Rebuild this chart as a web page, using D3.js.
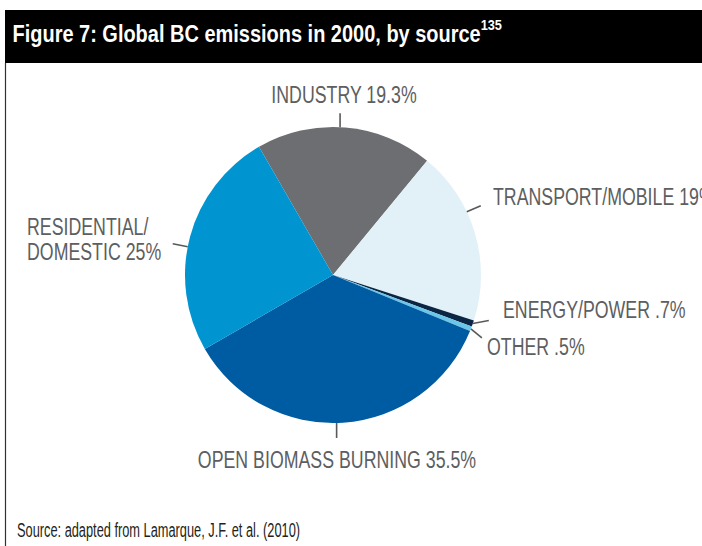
<!DOCTYPE html>
<html>
<head>
<meta charset="utf-8">
<script src="https://cdn.jsdelivr.net/npm/d3@7"></script>
<style>
  body { margin: 0; background: #fff; }
  svg { display: block; }
  text { font-family: "Liberation Sans", Arial, sans-serif; }
</style>
</head>
<body>
<svg id="chart" width="702" height="546"></svg>
<script>
// data, clockwise from the residential/industry edge
const sources = ['INDUSTRY', 'TRANSPORT/MOBILE', 'ENERGY/POWER', 'OTHER', 'OPEN BIOMASS BURNING', 'RESIDENTIAL/ DOMESTIC'];
const shares = [19.3, 19, 0.7, 0.5, 35.5, 25];
const shareLabels = ['19.3%', '19%', '.7%', '.5%', '35.5%', '25%'];
const colors = ['#6d6e71', '#e1f1f7', '#0b2545', '#6cc6ea', '#005ca2', '#0094d1'];

const width = 702, height = 546;
const cx = 333, cy = 275, radius = 148;

// label layout: leader angle tweak (deg), leader vector, text anchor
const labelLayout = [
    { da: -2, vx: 0, vy: -14, x: 344, y: 103, anchor: 'middle' },
    { da: -9, vx: 14, vy: -6, x: 493, y: 205, anchor: 'start' },
    { da: 0, vx: 16, vy: -3, x: 503, y: 318, anchor: 'start' },
    { da: 0, vx: 11, vy: 9, x: 487, y: 355, anchor: 'start' },
    { da: 2.5, vx: 0, vy: 15, x: 337, y: 468, anchor: 'middle' },
    { da: -4, vx: -15, vy: -3, x: 27, y: 235, anchor: 'start' }
];

const svg = d3.select('#chart');

// condensed text: horizontal squeeze of a regular face
function squeezed(parent, x, y, sx) {
    return parent.append('text')
        .attr('transform', `translate(${x},${y}) scale(${sx},1)`);
}

// title bar
svg.append('rect')
    .attr('x', 5).attr('y', 10)
    .attr('width', width - 5).attr('height', 53)
    .attr('fill', '#000');

const title = squeezed(svg, 12.5, 42, 0.85)
    .attr('fill', '#fff')
    .attr('font-size', 23.5)
    .attr('font-weight', 'bold')
    .text('Figure 7: Global BC emissions in 2000, by source');
title.append('tspan')
    .attr('font-size', 15)
    .attr('dy', -12)
    .text('135');

// left frame line
svg.append('line')
    .attr('x1', 5.5).attr('x2', 5.5)
    .attr('y1', 63).attr('y2', height)
    .attr('stroke', '#333')
    .attr('stroke-width', 1.2);

const pie = d3.pie()
    .sort(null)
    .value(d => d)
    .startAngle(-30 * Math.PI / 180)
    .endAngle(330 * Math.PI / 180);

const arc = d3.arc().innerRadius(0).outerRadius(radius);
const arcs = pie(shares);

const g = svg.append('g').attr('transform', `translate(${cx},${cy})`);

g.selectAll('path')
    .data(arcs)
    .join('path')
    .attr('d', arc)
    .attr('fill', (d, i) => colors[i]);

// leader lines
const leaders = svg.append('g');
arcs.forEach((d, i) => {
    const L = labelLayout[i];
    const a = (d.startAngle + d.endAngle) / 2 + L.da * Math.PI / 180;
    const x0 = cx + radius * Math.sin(a);
    const y0 = cy - radius * Math.cos(a);
    leaders.append('line')
        .attr('x1', x0).attr('y1', y0)
        .attr('x2', x0 + L.vx).attr('y2', y0 + L.vy)
        .attr('stroke', '#58595b')
        .attr('stroke-width', 1.6);
});

// labels
const labels = svg.append('g')
    .attr('fill', '#5d5e60')
    .attr('font-size', 24);
sources.forEach((s, i) => {
    const L = labelLayout[i];
    const t = squeezed(labels, L.x, L.y, 0.74)
        .attr('text-anchor', L.anchor);
    if (s.includes('/ ')) {
        const parts = s.split(' ');
        t.append('tspan').attr('x', 0).text(parts[0]);
        t.append('tspan').attr('x', 0).attr('dy', 25).text(parts.slice(1).join(' ') + ' ' + shareLabels[i]);
    } else {
        t.text(s + ' ' + shareLabels[i]);
    }
});

// source note
squeezed(svg, 17, 537, 0.64)
    .attr('fill', '#231f20')
    .attr('font-size', 20)
    .text('Source: adapted from Lamarque, J.F. et al. (2010)');
</script>
</body>
</html>
